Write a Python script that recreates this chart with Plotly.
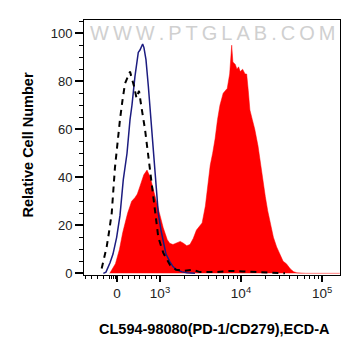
import numpy as np
import plotly.graph_objects as go

# x positions are in display (decade) units: 3 -> 10^3, 4 -> 10^4, 5 -> 10^5; "0" sits at ~2.47
red_x = [2.38, 2.45, 2.50, 2.54, 2.60, 2.65, 2.69, 2.72, 2.75, 2.80, 2.84, 2.88, 2.91, 2.96,
         3.00, 3.04, 3.09, 3.12, 3.16, 3.20, 3.25, 3.29, 3.33, 3.37, 3.41, 3.45, 3.49, 3.52,
         3.56, 3.58, 3.62, 3.65, 3.68, 3.71, 3.74, 3.78, 3.83, 3.86, 3.885, 3.90, 3.93, 3.95,
         3.97, 3.99, 4.02, 4.05, 4.07, 4.09, 4.11, 4.14, 4.17, 4.21, 4.24, 4.27, 4.30, 4.33,
         4.36, 4.40, 4.44, 4.49, 4.52, 4.56, 4.61, 4.65, 4.69, 4.80, 5.22]
red_y = [0, 4, 10, 17, 25, 30, 31.5, 33, 36, 41, 43, 40, 36, 29,
         24, 19, 14, 12.5, 12, 12.5, 13.3, 12.5, 11.5, 12, 14.5, 18, 19.5, 21,
         28, 33, 45, 50, 56, 64, 70, 75, 77, 83, 95, 88, 87, 85,
         86, 84, 85, 83, 83, 76, 68, 64, 60, 53, 46, 37, 32, 26,
         21, 15, 11, 7, 5, 4, 1.8, 0.7, 0.2, 0, 0]

blue_x = [2.301, 2.333, 2.383, 2.420, 2.465, 2.506, 2.547, 2.593, 2.630, 2.654, 2.691, 2.732,
          2.753, 2.786, 2.802, 2.827, 2.856, 2.889, 2.917, 2.951, 2.979, 3.012, 3.041, 3.074,
          3.123, 3.160, 3.206, 3.272, 3.333, 3.432]
blue_y = [0, 0.5, 4.4, 8, 15, 24, 39, 50, 64, 70, 82, 92,
          93, 95.5, 94, 89, 78, 63, 50, 35, 25, 18, 12.6, 8,
          4.8, 2.8, 1.5, 0.6, 0.2, 0]

dash_x = [2.280, 2.309, 2.342, 2.370, 2.404, 2.444, 2.475, 2.506, 2.537, 2.568, 2.605, 2.630,
          2.654, 2.679, 2.710, 2.741, 2.772, 2.815, 2.877, 2.938, 2.979, 3.041, 3.123, 3.198,
          3.296, 3.395, 3.494, 3.679, 3.864, 4.025, 4.173, 4.358, 4.543]
dash_y = [2, 6, 11, 17, 25, 44, 55, 64, 72, 79, 82, 84,
          81, 78, 73, 76, 69, 60, 43, 26, 15, 8.5, 3.5, 1.5,
          1, 1.5, 0.5, 0.5, 1, 0.8, 0.5, 0.3, 0]

x_tickvals = [2.469, 3, 4, 5]
x_ticktext = ["0", "10<sup>3</sup>", "10<sup>4</sup>", "10<sup>5</sup>"]
y_tickvals = [0, 20, 40, 60, 80, 100]
x_title = "CL594-98080(PD-1/CD279),ECD-A"
y_title = "Relative Cell Number"
watermark = "WWW.PTGLAB.COM"

# minor ticks (layout only)
lin_minor = [2.086, 2.157, 2.226, 2.300, 2.377, 2.401, 2.426, 2.451, 2.540, 2.609, 2.683,
             2.753, 2.823, 2.889, 2.951]
log_minor = [d + np.log10(k) for d in (3, 4, 5) for k in range(2, 10)]
x_minor = lin_minor + [v for v in log_minor if v < 5.22]

fig = go.Figure()
fig.add_trace(go.Scatter(x=red_x, y=red_y, mode="lines", fill="tozeroy",
                         fillcolor="#ff0000", line=dict(color="#ff0000", width=0.5),
                         showlegend=False, hoverinfo="skip"))
fig.add_trace(go.Scatter(x=blue_x, y=blue_y, mode="lines",
                         line=dict(color="#1c1c80", width=1.5),
                         showlegend=False, hoverinfo="skip"))
fig.add_trace(go.Scatter(x=dash_x, y=dash_y, mode="lines",
                         line=dict(color="#000000", width=2, dash="6px,5px"),
                         showlegend=False, hoverinfo="skip"))

fig.add_annotation(x=0.5, y=1, xref="paper", yref="paper", text="\u2009".join(watermark),
                   showarrow=False, yanchor="top", yshift=0,
                   font=dict(family="Liberation Sans, Arial", size=20, color="#d0d0d0"))
fig.add_annotation(x=0.5, y=0, xref="paper", yref="paper", text="<b>" + x_title + "</b>",
                   showarrow=False, yanchor="middle", xanchor="center", yshift=-54, xshift=2,
                   font=dict(family="Liberation Sans, Arial", size=14.5, color="black"))
fig.add_annotation(x=0, y=0.5, xref="paper", yref="paper", text="<b>" + y_title + "</b>",
                   showarrow=False, yanchor="middle", xanchor="center", xshift=-57, yshift=2,
                   textangle=-90,
                   font=dict(family="Liberation Sans, Arial", size=14.5, color="black"))

# the page body adds an 8px offset, so the figure is 8px smaller and margins shifted
fig.update_layout(
    width=353, height=348,
    margin=dict(l=76, r=21, t=12, b=81),
    paper_bgcolor="white", plot_bgcolor="white",
    font=dict(family="Liberation Sans, Arial", color="#222222"),
    xaxis=dict(range=[2.062, 5.222], tickmode="array", tickvals=x_tickvals, ticktext=x_ticktext,
               ticks="outside", ticklen=6, tickwidth=1.5, tickcolor="black",
               showline=True, linecolor="black", linewidth=1, mirror=True,
               showgrid=False, zeroline=False, automargin=False,
               tickfont=dict(size=13.5, color="#222222"),
               minor=dict(tickmode="array", tickvals=x_minor, ticks="outside", ticklen=3,
                          tickcolor="black", tickwidth=1, showgrid=False)),
    yaxis=dict(range=[-0.7, 105.5], tickmode="array", tickvals=y_tickvals,
               ticks="outside", ticklen=8, tickwidth=1.5, tickcolor="black",
               showline=True, linecolor="black", linewidth=1, mirror=True,
               showgrid=False, zeroline=False, automargin=False,
               tickfont=dict(size=13, color="#222222"),
               minor=dict(dtick=5, tick0=0, ticks="outside", ticklen=4, tickcolor="black",
                          tickwidth=1, showgrid=False)),
)

fig.write_html("out.html")
